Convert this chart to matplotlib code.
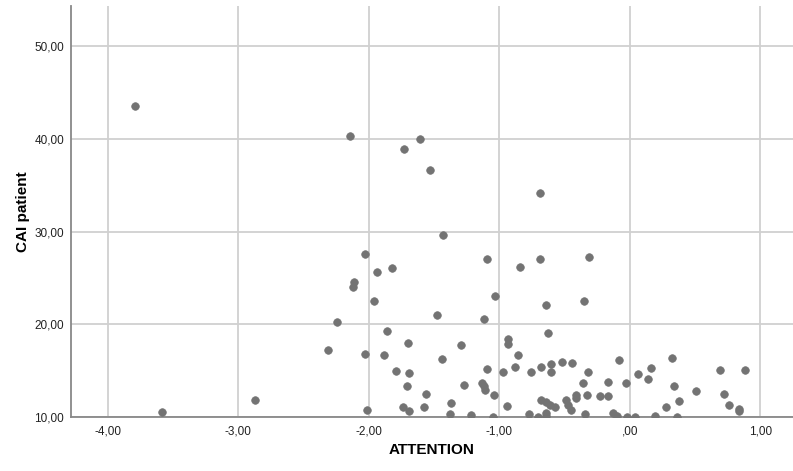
import matplotlib.pyplot as plt
from matplotlib.ticker import FuncFormatter

# ATTENTION (x) vs CAI patient (y)
attention = [-3.79, -3.58, -2.87, -2.14, -1.73, -1.61, -1.53, -1.43, -0.69,
             -2.03, -1.82, -1.94, -2.11, -2.12, -1.96, -2.24, -1.48, -1.86,
             -2.31, -1.70, -2.03, -1.88, -1.44, -1.79, -1.69, -1.71, -1.56,
             -1.37, -1.74, -1.58, -2.01, -1.69, -1.38, -1.09, -0.69, -0.31,
             -0.84, -1.03, -0.64, -0.35, -1.12, -0.63, -0.93, -0.93, -1.29,
             -0.86, -0.08, 0.32, -0.52, -0.44, -0.60, -0.88, -0.68, -1.09,
             0.16, 0.69, 0.88, -0.97, -0.76, -0.60, -0.32, 0.06, 0.14,
             -0.17, -0.03, -0.36, 0.34, -1.27, -1.13, -1.12, -1.11, -1.04,
             0.51, 0.72, -0.41, -0.41, -0.33, -0.23, -0.17, 0.38, 0.76,
             0.84, 0.84, -0.94, -0.68, -0.64, -0.61, -0.57, -0.49, -0.47,
             -0.45, 0.28, -1.22, -1.05, -0.77, -0.70, -0.64, -0.64, -0.34,
             -0.13, -0.10, -0.02, 0.04, 0.19, 0.36]
cai = [43.6, 10.5, 11.8, 40.3, 38.9, 40.0, 36.7, 29.6, 34.2,
       27.6, 26.1, 25.6, 24.6, 24.0, 22.5, 20.2, 21.0, 19.3,
       17.2, 18.0, 16.8, 16.7, 16.2, 14.9, 14.7, 13.3, 12.5,
       11.5, 11.1, 11.1, 10.7, 10.6, 10.3, 27.0, 27.0, 27.3,
       26.2, 23.0, 22.1, 22.5, 20.6, 19.0, 18.4, 17.8, 17.7,
       16.7, 16.1, 16.3, 15.9, 15.8, 15.7, 15.4, 15.4, 15.1,
       15.3, 15.0, 15.0, 14.8, 14.8, 14.8, 14.8, 14.6, 14.1,
       13.7, 13.6, 13.6, 13.3, 13.4, 13.6, 13.3, 12.9, 12.3,
       12.8, 12.5, 12.3, 12.0, 12.3, 12.2, 12.2, 11.7, 11.3,
       10.8, 10.6, 11.2, 11.8, 11.55, 11.3, 11.0, 11.8, 11.3,
       10.7, 11.0, 10.2, 10.0, 10.3, 10.0, 10.4, 10.1, 10.3,
       10.4, 10.1, 10.0, 10.0, 10.1, 10.0]

x_ticks = [-4, -3, -2, -1, 0, 1]
y_ticks = [10, 20, 30, 40, 50]

plt.rcParams['font.family'] = ['Liberation Sans', 'DejaVu Sans']


def comma_fmt(v, pos):
    s = '%.2f' % v
    s = s.replace('.', ',')
    if s.startswith('0,'):
        s = s[1:]
    if s == '-0,00':
        s = ',00'
    return s


fig = plt.figure(figsize=(7.93, 4.71), dpi=100)
ax = fig.add_axes([71 / 793, 1 - 416.7 / 471, 722 / 793, 411 / 471])

ax.scatter(attention, cai, s=30, color='#737373', edgecolors='#737373',
           linewidths=0.5, zorder=3)

ax.set_xlim(-4.28, 1.25)
ax.set_ylim(10, 54.4)
ax.set_xticks(x_ticks)
ax.set_yticks(y_ticks)
ax.xaxis.set_major_formatter(FuncFormatter(comma_fmt))
ax.yaxis.set_major_formatter(FuncFormatter(comma_fmt))

ax.grid(True, color='#d0d0d0', linewidth=1.3, zorder=0)
ax.set_axisbelow(True)
for side in ['top', 'right']:
    ax.spines[side].set_visible(False)
for side in ['left', 'bottom']:
    ax.spines[side].set_color('#888888')
    ax.spines[side].set_linewidth(1.3)

ax.tick_params(length=0, labelsize=8.5, colors='#222222')
ax.tick_params(axis='y', pad=5)
ax.tick_params(axis='x', pad=6)

ax.set_xlabel('ATTENTION', fontsize=11, fontweight='bold')
ax.set_ylabel('CAI patient', fontsize=11, fontweight='bold')
ax.xaxis.set_label_coords(0.5, -0.064)
ax.yaxis.set_label_coords(-0.057, 0.5)

fig.savefig('out.png', dpi=100)
